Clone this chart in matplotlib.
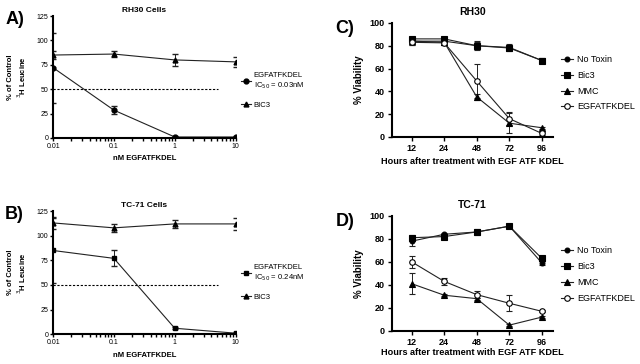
import numpy as np
import matplotlib.pyplot as plt
from matplotlib.ticker import NullFormatter
from matplotlib.lines import Line2D

plt.rcParams['font.family'] = ['Liberation Sans', 'DejaVu Sans']

# dose-response data (panels A, B)
dose = [0.01, 0.1, 1, 10]
a_egf = [72, 28.5, 1, 1]
a_egf_err = [36, 4, 1, 1]
a_bic = [85, 86, 80, 78]
a_bic_err = [4, 3, 6.5, 5]
b_egf = [85, 77, 6, 1]
b_egf_err = [33, 8, 1, 1]
b_bic = [113, 108, 112, 112]
b_bic_err = [6, 4, 4, 6]

# viability time course (panels C, D)
hours = ['12', '24', '48', '72', '96']
c_notox = [84, 84, 80, 78.5, 67]
c_notox_err = [3, 2, 4, 3, 2]
c_bic3 = [86, 86, 80, 78, 67]
c_bic3_err = [2, 1, 3, 2, 2]
c_mmc = [84, 83, 35, 12, 8]
c_mmc_err = [2, 2, 3, 9, 1]
c_egf = [83, 82.5, 49, 16, 3]
c_egf_err = [2, 2, 15, 6, 1]

d_notox = [78, 84, 86, 91, 59]
d_notox_err = [4, 1, 3, 1, 2]
d_bic3 = [81, 82, 86, 91, 63]
d_bic3_err = [2, 1, 2, 1, 2]
d_mmc = [41, 31, 28, 5, 12]
d_mmc_err = [9, 1, 1, 1, 1]
d_egf = [60, 43, 31.5, 24, 17]
d_egf_err = [5, 3, 3, 7, 1]

fig = plt.figure(figsize=(6.4, 3.64), dpi=100)


def dose_panel(rect, egf, egf_err, bic, bic_err, egf_marker, title, ic50, letter, ly):
    ax = fig.add_axes(rect)
    ax.errorbar(dose, egf, yerr=egf_err, color='#222222', lw=0.8, marker=egf_marker,
                ms=3.5, mfc='black', mec='black', capsize=2, elinewidth=0.7)
    ax.errorbar(dose, bic, yerr=bic_err, color='#222222', lw=0.8, marker='^',
                ms=3.5, mfc='black', mec='black', capsize=2, elinewidth=0.7)
    ax.plot([0.01, 5.2], [50, 50], ls=(0, (2, 1.5)), color='black', lw=0.8)
    ax.set_xscale('log')
    ax.set_xlim(0.01, 10)
    ax.set_ylim(0, 125)
    ax.set_yticks([0, 25, 50, 75, 100, 125])
    ax.set_xticks(dose)
    ax.set_xticklabels(['0.01', '0.1', '1', '10'])
    ax.xaxis.set_minor_formatter(NullFormatter())
    for s in ['top', 'right']:
        ax.spines[s].set_visible(False)
    for s in ['left', 'bottom']:
        ax.spines[s].set_linewidth(1.5)
    ax.tick_params(labelsize=5, length=2.5, width=1, pad=1)
    ax.tick_params(which='minor', length=2, width=1)
    ax.set_title(title, fontsize=6, fontweight='bold', pad=3)
    ax.set_xlabel('nM EGFATFKDEL', fontsize=5.5, fontweight='bold', labelpad=4)
    ax.set_ylabel('% of Control\n$^3$H Leucine', fontsize=5.5, fontweight='bold', labelpad=6)
    handles = [Line2D([], [], color='#222222', lw=0.8, marker=egf_marker, ms=3.5, mfc='black', mec='black'),
               Line2D([], [], color='#222222', lw=0.8, marker='^', ms=3.5, mfc='black', mec='black')]
    ax.legend(handles, ['EGFATFKDEL\nIC$_{50}$ = ' + ic50, 'BIC3'], loc='center left',
              bbox_to_anchor=(1.0, ly), frameon=False, fontsize=5.5, handlelength=1.3,
              labelspacing=1.4, handletextpad=0.4, borderaxespad=0.3)
    fig.text(rect[0] - 0.075, rect[1] + rect[3] - 0.01, letter, fontsize=13,
             fontweight='bold', ha='left', va='center')
    return ax


dose_panel([0.083, 0.621, 0.285, 0.335], a_egf, a_egf_err, a_bic, a_bic_err, 'o',
           'RH30 Cells', '0.03nM', 'A)', 0.39)
dose_panel([0.083, 0.082, 0.285, 0.338], b_egf, b_egf_err, b_bic, b_bic_err, 's',
           'TC-71 Cells', '0.24nM', 'B)', 0.42)


def time_panel(rect, series, title, letter, ly, xpad):
    ax = fig.add_axes(rect)
    x = np.arange(1, len(hours) + 1)
    styles = [('No Toxin', 'o', 'black', 3.5), ('Bic3', 's', 'black', 4),
              ('MMC', '^', 'black', 4), ('EGFATFKDEL', 'o', 'white', 4)]
    handles = []
    for (name, mk, fc, ms), (vals, err) in zip(styles, series):
        ax.errorbar(x, vals, yerr=err, color='#222222', lw=0.8, marker=mk, ms=ms,
                    mfc=fc, mec='black', mew=0.8, capsize=2.5, elinewidth=0.7)
        handles.append(Line2D([], [], color='#222222', lw=0.8, marker=mk, ms=ms,
                              mfc=fc, mec='black', mew=0.8))
    ax.set_xlim(0.385, 5.34)
    ax.set_ylim(0, 100)
    ax.set_xticks(x)
    ax.set_xticklabels(hours)
    ax.set_yticks([0, 20, 40, 60, 80, 100])
    for s in ['top', 'right']:
        ax.spines[s].set_visible(False)
    for s in ['left', 'bottom']:
        ax.spines[s].set_linewidth(1.5)
    ax.tick_params(labelsize=6.5, length=3, width=1, pad=2)
    for t in ax.get_xticklabels() + ax.get_yticklabels():
        t.set_fontweight('bold')
    ax.set_title(title, fontsize=7.5, fontweight='bold', pad=6)
    ax.set_xlabel('Hours after treatment with EGF ATF KDEL', fontsize=6.6,
                  fontweight='bold', labelpad=xpad)
    ax.set_ylabel('% Viability', fontsize=7, fontweight='bold', labelpad=4)
    ax.legend(handles, [s[0] for s in styles], loc='center left',
              bbox_to_anchor=(1.0, ly), frameon=False, borderaxespad=0.5,
              fontsize=6.5, handlelength=1.3, labelspacing=0.75, handletextpad=0.5)
    fig.text(rect[0] - 0.088, rect[1] + rect[3] - 0.015, letter, fontsize=13,
             fontweight='bold', ha='left', va='center')
    return ax


time_panel([0.612, 0.624, 0.252, 0.313],
           [(c_notox, c_notox_err), (c_bic3, c_bic3_err), (c_mmc, c_mmc_err), (c_egf, c_egf_err)],
           'RH30', 'C)', 0.47, 3)
time_panel([0.612, 0.091, 0.252, 0.316],
           [(d_notox, d_notox_err), (d_bic3, d_bic3_err), (d_mmc, d_mmc_err), (d_egf, d_egf_err)],
           'TC-71', 'D)', 0.49, 0.5)

fig.savefig('out.png', dpi=100)
